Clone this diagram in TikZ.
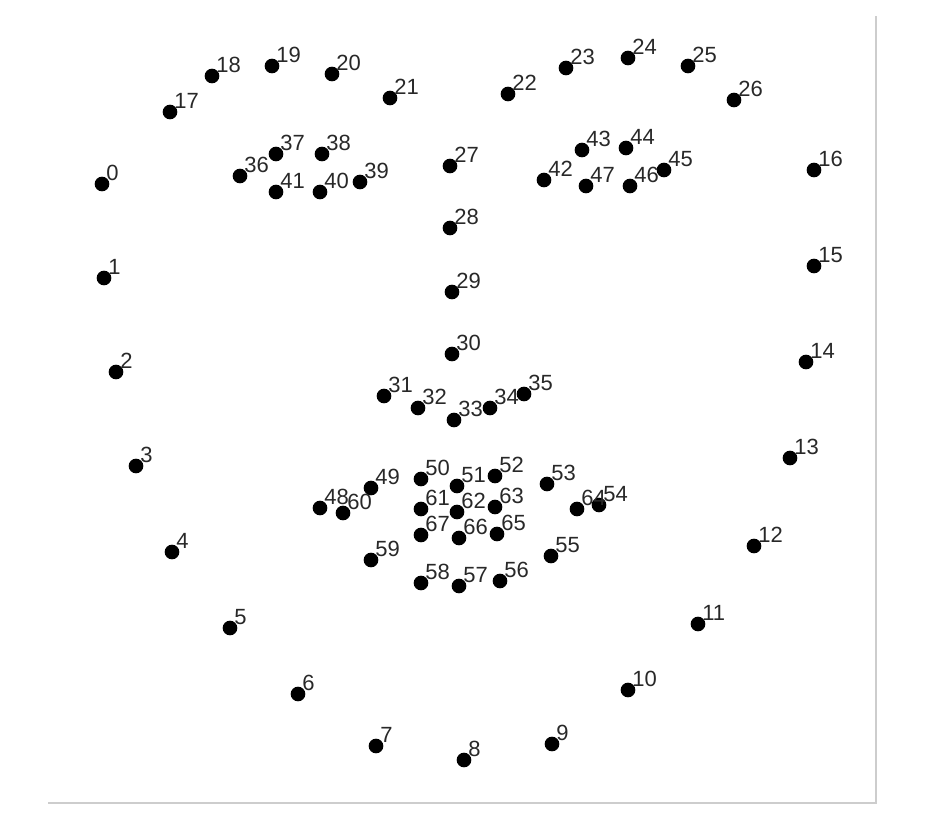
\documentclass[tikz,border=0pt]{standalone}
\usepackage{fontspec}
\setmainfont{Liberation Sans}
\usetikzlibrary{positioning,calc}

\tikzset{
  lmk/.style={circle,fill=black,inner sep=0pt,minimum size=11pt},
  num/.style={anchor=base west,inner sep=0pt,text={rgb,255:red,40;green,40;blue,40},font=\fontsize{16.5}{19}\selectfont},
  frameline/.style={draw={rgb,255:red,205;green,205;blue,205},line width=1.1pt}
}

\begin{document}
\begin{tikzpicture}[x=0.75pt,y=0.75pt,yscale=-1,xscale=1]
\useasboundingbox (0,0) rectangle (931,835);

%Frame
\coordinate (fa) at (48,803);
\coordinate (fb) at (876,803);
\coordinate (fc) at (876,16);
\draw [frameline] (fa) -- (fb) -- (fc);

%Landmarks: index / x / y
\foreach \i/\px/\py in {
  0/102/184, 1/104/278, 2/116/372, 3/136/466, 4/172/552, 5/230/628,
  6/298/694, 7/376/746, 8/464/760, 9/552/744, 10/628/690, 11/698/624,
  12/754/546, 13/790/458, 14/806/362, 15/814/266, 16/814/170,
  17/170/112, 18/212/76, 19/272/66, 20/332/74, 21/390/98,
  22/508/94, 23/566/68, 24/628/58, 25/688/66, 26/734/100,
  27/450/166, 28/450/228, 29/452/292, 30/452/354,
  31/384/396, 32/418/408, 33/454/420, 34/490/408, 35/524/394,
  36/240/176, 37/276/154, 38/322/154, 39/360/182, 40/320/192, 41/276/192,
  42/544/180, 43/582/150, 44/626/148, 45/664/170, 46/630/186, 47/586/186,
  48/320/508, 49/371/488, 50/421/479, 51/457/486, 52/495/476, 53/547/484,
  54/599/505, 55/551/556, 56/500/581, 57/459/586, 58/421/583, 59/371/560,
  60/343/513, 61/421/509, 62/457/512, 63/495/507, 64/577/509,
  65/497/534, 66/459/538, 67/421/535}
{
  % Point
  \node [lmk] (p\i) at (\px,\py) {};
  % Text Node
  \node [num] (n\i) at (\px+4,\py-4) {\i};
}

\end{tikzpicture}
\end{document}
